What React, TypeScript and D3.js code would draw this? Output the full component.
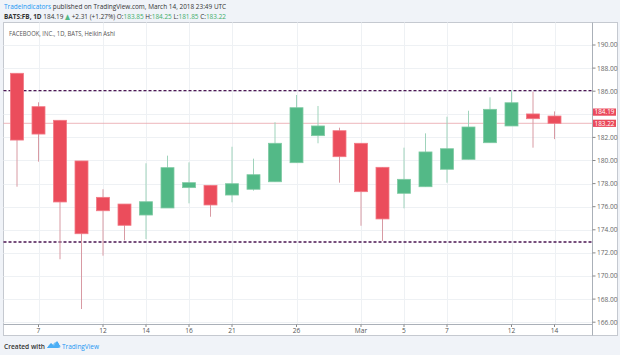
import React from "react";
import * as d3 from "d3";

const dates = ["Feb 6","Feb 7","Feb 8","Feb 9","Feb 12","Feb 13","Feb 14","Feb 15","Feb 16","Feb 20","Feb 21","Feb 22","Feb 23","Feb 26","Feb 27","Feb 28","Mar 1","Mar 2","Mar 5","Mar 6","Mar 7","Mar 8","Mar 9","Mar 12","Mar 13","Mar 14"];
const opens = [187.55,184.66,183.48,179.96,176.81,176.23,175.28,175.89,177.65,177.85,177.01,177.51,178.16,179.81,182.15,182.58,181.49,179.41,177.16,177.73,179.24,180.1,181.54,182.99,184.03,183.85];
const highs = [187.55,185.04,183.48,179.96,177.51,176.23,179.76,180.42,179.84,177.85,181.19,180.16,183.31,185.67,184.72,182.84,181.49,179.41,181.11,182.35,183.79,184.31,185.47,186.1,185.96,184.25];
const lows = [177.73,179.9,171.45,167.14,171.76,173.09,173.2,175.89,176.29,175.13,176.38,177.39,178.16,179.81,181.49,178.08,174.35,173.03,175.86,177.73,178.08,180.1,181.54,182.99,181.11,181.85];
const closes = [181.77,182.29,176.41,173.66,175.65,174.39,176.43,179.38,178.08,176.15,177.99,178.77,181.49,184.57,182.99,180.33,177.3,174.94,178.37,180.74,181.02,182.9,184.43,185.0,183.62,183.22];

const xTickDates = ["Feb 7","Feb 12","Feb 14","Feb 16","Feb 21","Feb 26","Mar 1","Mar 5","Mar 7","Mar 12","Mar 14"];
const xTickLabels = ["7","12","14","16","21","26","Mar","5","7","12","14"];
const yTicks = [166,168,170,172,174,176,178,180,182,184,186,188,190];
const levelLines = [186.05, 172.95];
const priceLabels = [184.19, 183.22];
const closeLine = 183.22;

const UP = "#53b987";
const DOWN = "#eb4d5c";
const FONT = "'Open Sans', 'DejaVu Sans', sans-serif";

export default function App() {
  const W = 620, H = 355;
  const plotLeft = 3.5, plotRight = 592.5, plotTop = 22.5, plotBottom = 324.5;
  const x = d3.scalePoint<string>().domain(dates).range([17, 554.5]);
  const y = d3.scaleLinear().domain([166, 190]).range([322.2, 45]);
  const bodyW = 13;
  const hidden = (t: number) => priceLabels.some((p) => Math.abs(y(p) - y(t)) < 7.5);

  return (
    <svg width={W} height={H} style={{ position: "absolute", left: 0, top: 0 }} fontFamily={FONT}>
      <rect x={0} y={0} width={W} height={H} fill="#f0f3f8" />
      {/* header */}
      <g transform="translate(4,0) scale(0.87,1)">
        <text x={0} y={9.5} fontSize={7.4} fill="#333">
          <tspan fill="#2196f3">TradeIndicators</tspan>
          <tspan> published on TradingView.com, March 14, 2018 23:49 UTC</tspan>
        </text>
        <text x={0} y={19.5} fontSize={7.4} fill="#333">
          <tspan fontWeight="bold">BATS:FB, 1D</tspan>
          <tspan> 184.19 </tspan>
          <tspan fill="#53b987">▲</tspan>
          <tspan> +2.31 (+1.27%) O:</tspan>
          <tspan fill="#3fae6a">183.85</tspan>
          <tspan> H:</tspan>
          <tspan fill="#3fae6a">184.25</tspan>
          <tspan> L:</tspan>
          <tspan fill="#3fae6a">181.85</tspan>
          <tspan> C:</tspan>
          <tspan fill="#3fae6a">183.22</tspan>
        </text>
      </g>
      {/* chart frame */}
      <rect x={3.5} y={22.5} width={614} height={313} fill="#ffffff" stroke="#c5c9d0" />
      {/* grid */}
      {yTicks.map((t) => (
        <line key={"gy" + t} x1={plotLeft} x2={plotRight} y1={Math.round(y(t)) + 0.5} y2={Math.round(y(t)) + 0.5} stroke="#eef1f4" />
      ))}
      {xTickDates.map((d) => (
        <line key={"gx" + d} x1={Math.round(x(d)!) + 0.5} x2={Math.round(x(d)!) + 0.5} y1={plotTop} y2={plotBottom} stroke="#eef1f4" />
      ))}
      {/* title */}
      <text x={9} y={35.5} fontSize={7.2} fill="#555" textLength={106} lengthAdjust="spacingAndGlyphs">FACEBOOK, INC., 1D, BATS, Heikin Ashi</text>
      {/* level lines */}
      {levelLines.map((v) => (
        <line key={"lv" + v} x1={plotLeft} x2={plotRight} y1={y(v)} y2={y(v)} stroke="#4a1552" strokeWidth={1.4} strokeDasharray="3,2" />
      ))}
      {/* close line */}
      <line x1={plotLeft} x2={plotRight} y1={y(closeLine)} y2={y(closeLine)} stroke="#e9a3ab" strokeWidth={0.8} />
      {/* candles */}
      {dates.map((d, i) => {
        const o = opens[i], c = closes[i], h = highs[i], l = lows[i];
        const up = c >= o;
        const cx = x(d)!;
        const top = y(Math.max(o, c));
        const bot = y(Math.min(o, c));
        return (
          <g key={d}>
            <line x1={cx} x2={cx} y1={y(h)} y2={y(l)} stroke={up ? "#9fd3bb" : "#d89aa3"} strokeWidth={1} />
            <rect x={cx - bodyW / 2} y={top} width={bodyW} height={Math.max(bot - top, 1)} fill={up ? UP : DOWN} stroke={up ? "#7fcaa3" : "#f27a86"} strokeWidth={0.8} />
          </g>
        );
      })}
      {/* axes lines */}
      <line x1={plotRight} x2={plotRight} y1={plotTop} y2={335.5} stroke="#aab0b8" />
      <line x1={plotLeft} x2={plotRight} y1={plotBottom} y2={plotBottom} stroke="#aab0b8" />
      {/* y ticks */}
      {yTicks.map((t) => (
        <g key={"yt" + t}>
          <line x1={plotRight} x2={plotRight + 3} y1={y(t)} y2={y(t)} stroke="#888" />
          {!hidden(t) && (
            <text x={597} y={y(t) + 2.4} fontSize={6.6} fill="#666">{t.toFixed(2)}</text>
          )}
        </g>
      ))}
      {/* price labels */}
      {priceLabels.map((v) => (
        <g key={"pl" + v}>
          <rect x={593} y={y(v) - 3.6} width={23} height={7.2} fill="#ea4a5c" />
          <text x={604.5} y={y(v) + 2.3} fontSize={6.4} fill="#ffffff" textAnchor="middle">{v.toFixed(2)}</text>
        </g>
      ))}
      {/* x ticks */}
      {xTickDates.map((d, i) => (
        <g key={"xt" + d}>
          <line x1={x(d)!} x2={x(d)!} y1={plotBottom} y2={plotBottom + 2.5} stroke="#888" />
          <text x={x(d)!} y={333} fontSize={6.6} fill="#555" textAnchor="middle">{xTickLabels[i]}</text>
        </g>
      ))}
      {/* footer */}
      <text x={4} y={348.5} fontSize={7.2} fill="#333" fontWeight={600} textLength={41} lengthAdjust="spacingAndGlyphs">Created with</text>
      <g transform="translate(47,340)">
        <path d="M0,8 L4,3 L7,6 L10,1 L13,6 L11,8 Z" fill="#2196f3" />
        <path d="M1,8 C1,4 5,3 6,5 C7,1 12,1 12,5 C14,5 14,8 12,8 Z" fill="#56b4f5" opacity={0.8} />
      </g>
      <text x={62} y={348.5} fontSize={7.4} fill="#2196f3" textLength={37} lengthAdjust="spacingAndGlyphs">TradingView</text>
    </svg>
  );
}
